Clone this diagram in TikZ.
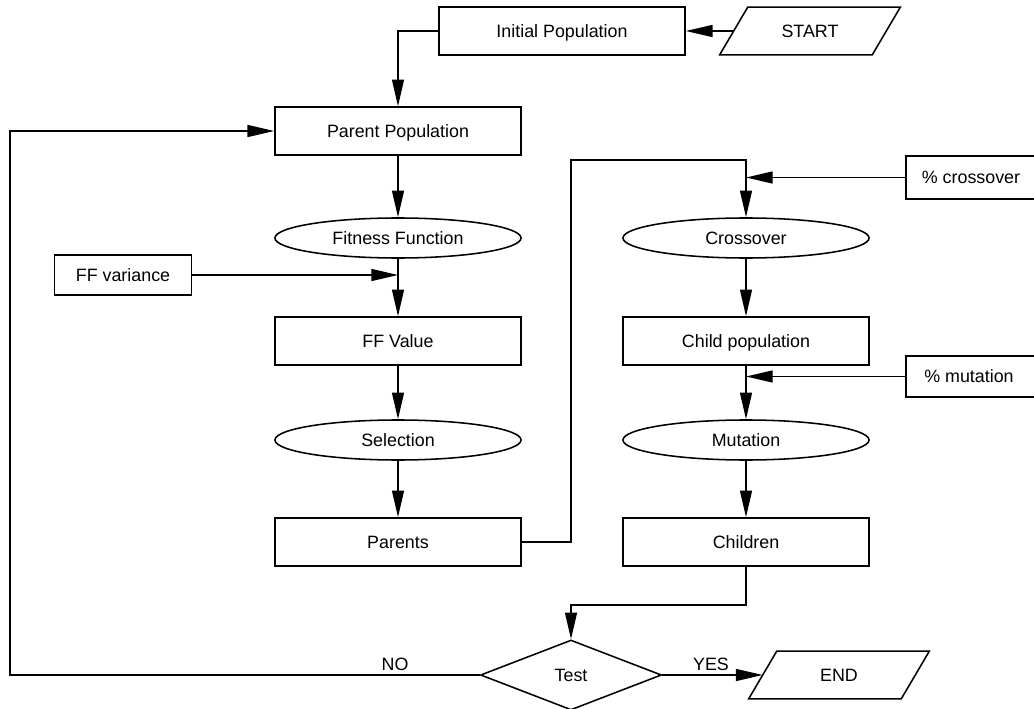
\documentclass[tikz,border=0pt]{standalone}
\usepackage{fontspec}
\setmainfont{Liberation Sans}
\usetikzlibrary{arrows.meta}
\usetikzlibrary{shapes.geometric}

\begin{document}
\begin{tikzpicture}[x=0.025cm, y=-0.025cm,
        font=\fontsize{12.7}{15}\selectfont,
        every node/.style={inner sep=0pt, text height=9.1pt, text depth=0pt},
        box/.style={draw, line width=1.1pt, minimum width=6.15cm, minimum height=1.2cm},
        oval/.style={draw, ellipse, line width=1.1pt, minimum width=6.15cm, minimum height=1cm},
        sidebox/.style={draw, line width=1.1pt, minimum height=1.05cm},
        slant/.style={minimum width=3.8cm, minimum height=1.175cm},
        arr/.style={line width=1.1pt, -{Triangle[length=19pt, width=8.5pt]}}]

        \def\lean{0.35cm}

        \useasboundingbox (0,0) rectangle (1034,709);

        % left column
        \node [box] (init) at (562, 31) {Initial Population};
        \node [slant] (start) at (810, 31) {START};
        \node [box] (parpop) at (398, 131) {Parent Population};
        \node [oval] (fitness) at (398, 238) {Fitness Function};
        \node [sidebox, minimum width=3.425cm, minimum height=1cm] (ffvar) at (123, 275) {FF variance};
        \node [box] (ffval) at (398, 341) {FF Value};
        \node [oval] (select) at (398, 440) {Selection};
        \node [box] (parents) at (398, 542) {Parents};

        % right column
        \node [sidebox, minimum width=3.25cm, minimum height=1.075cm] (pcross) at (971, 177.5) {\% crossover};
        \node [oval] (cross) at (746, 238) {Crossover};
        \node [box] (child) at (746, 341) {Child population};
        \node [sidebox, minimum width=3.25cm, minimum height=1.025cm] (pmut) at (971, 376.5) {\hspace*{-0.1cm}\% mutation};
        \node [oval] (mutate) at (746, 440) {Mutation};
        \node [box] (children) at (746, 542) {Children};

        % bottom
        \node [draw, diamond, line width=1.1pt, minimum width=4.525cm, minimum height=1.75cm] (test) at (571, 675) {Test};
        \node [slant] (end) at (839, 675) {END};
        \node (nolabel) at (395, 664) {NO};
        \node (yeslabel) at (711, 664) {YES};

        % parallelograms
        \foreach \n in {start, end}
          \draw[line width=1.1pt] ([xshift=-\lean]\n.south west) -- ([xshift=\lean]\n.north west)
                -- ([xshift=\lean]\n.north east) -- ([xshift=-\lean]\n.south east) -- cycle;

        \coordinate (upjog) at (571, 160);
        \coordinate (downjog) at (571, 605);
        \coordinate (loop) at (10, 131);

        \draw[arr] (start.west) -- (init.east);
        \draw[arr] (init.west) -| (parpop.north);
        \draw[arr] (parpop.south) -- (fitness.north);
        \draw[arr] (fitness.south) -- (ffval.north);
        \draw[arr] (ffvar.east) -- (ffvar.east -| fitness.south);
        \draw[arr] (ffval.south) -- (select.north);
        \draw[arr] (select.south) -- (parents.north);

        \draw[arr] (parents.east) -| (upjog) -| (cross.north);
        \draw[arr] (pcross.west) -- (pcross.west -| cross.north);
        \draw[arr] (cross.south) -- (child.north);
        \draw[arr] (child.south) -- (mutate.north);
        \draw[arr] (pmut.west) -- (pmut.west -| child.south);
        \draw[arr] (mutate.south) -- (children.north);

        \draw[arr] (children.south) |- (downjog) -- (test.north);
        \draw[arr] (test.east) -- (end.west);
        \draw[arr] (test.west) -| (loop) -- (parpop.west);

      \end{tikzpicture}
\end{document}
